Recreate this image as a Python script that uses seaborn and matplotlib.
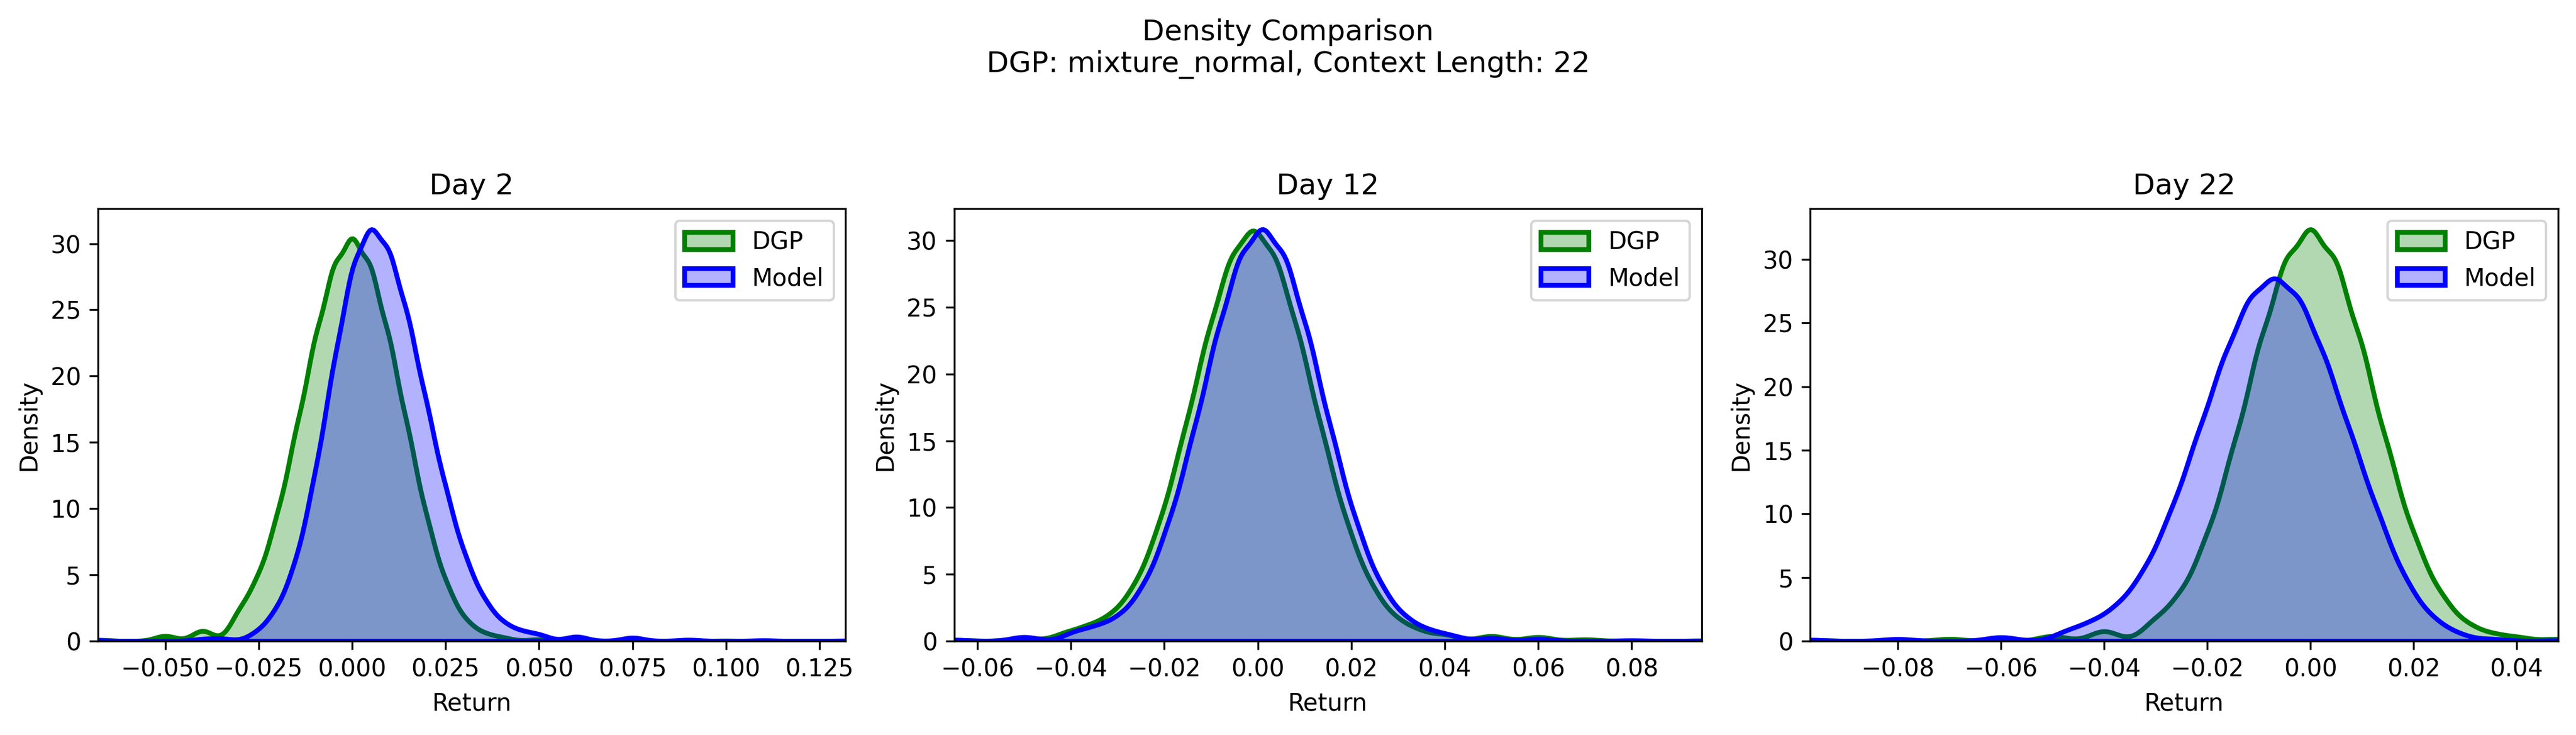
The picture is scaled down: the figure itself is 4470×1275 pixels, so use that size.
import numpy as np
import matplotlib
matplotlib.use("Agg")
import matplotlib.pyplot as plt
import seaborn as sns

# Density values, per day and per series
DAYS = ["Day 2", "Day 12", "Day 22"]

d2_dgp_x = [-0.068, -0.05, -0.04, -0.03, -0.025, -0.02, -0.015, -0.01, -0.005, 0.0, 0.005, 0.01,
            0.015, 0.02, 0.025, 0.03, 0.035, 0.04, 0.05, 0.075, 0.1, 0.132]
d2_dgp_y = [0.1, 0.5, 1.0, 2.5, 4.8, 9.3, 15.7, 22.6, 28.2, 30.5, 28.2, 22.6,
            15.7, 9.0, 4.3, 1.6, 0.6, 0.3, 0.15, 0.05, 0.02, 0.0]
d2_mod_x = [-0.068, -0.04, -0.035, -0.025, -0.02, -0.015, -0.01, -0.005, 0.0, 0.005, 0.01, 0.015,
            0.02, 0.025, 0.03, 0.035, 0.04, 0.045, 0.05, 0.06, 0.075, 0.09, 0.11, 0.132]
d2_mod_y = [0.05, 0.15, 0.2, 0.7, 2.2, 5.3, 11.1, 18.8, 25.7, 28.5, 26.7, 22.1,
            16.0, 10.3, 5.8, 2.9, 1.3, 0.7, 0.5, 0.4, 0.3, 0.1, 0.05, 0.02]

d12_dgp_x = [-0.065, -0.05, -0.041, -0.036, -0.031, -0.026, -0.021, -0.016, -0.011, -0.006, -0.001,
             0.004, 0.009, 0.014, 0.019, 0.024, 0.029, 0.034, 0.04, 0.05, 0.06, 0.07, 0.095]
d12_dgp_y = [0.1, 0.3, 0.7, 1.2, 2.0, 4.2, 8.6, 15.1, 22.5, 28.6, 31.0,
             28.6, 22.5, 15.1, 8.6, 4.2, 1.8, 0.9, 0.6, 0.5, 0.4, 0.15, 0.02]
d12_mod_x = [-0.065, -0.05, -0.039, -0.034, -0.029, -0.024, -0.019, -0.014, -0.009, -0.004, 0.001,
             0.006, 0.011, 0.016, 0.021, 0.026, 0.031, 0.036, 0.041, 0.05, 0.06, 0.08, 0.095]
d12_mod_y = [0.1, 0.4, 0.8, 1.2, 2.0, 4.3, 8.8, 15.3, 22.9, 29.1, 31.5,
             29.1, 22.9, 15.3, 8.8, 4.3, 1.9, 0.9, 0.5, 0.3, 0.2, 0.05, 0.02]

d22_dgp_x = [-0.097, -0.07, -0.05, -0.04, -0.03, -0.025, -0.02, -0.015, -0.01, -0.005, 0.0,
             0.005, 0.01, 0.015, 0.02, 0.025, 0.03, 0.035, 0.04, 0.048]
d22_dgp_y = [0.1, 0.2, 0.5, 1.0, 1.8, 3.7, 8.1, 14.9, 23.0, 29.8, 32.5,
             29.8, 23.0, 14.9, 8.1, 3.7, 1.4, 0.6, 0.35, 0.2]
d22_mod_x = [-0.097, -0.08, -0.06, -0.047, -0.042, -0.037, -0.032, -0.027, -0.022, -0.017, -0.012,
             -0.007, -0.002, 0.003, 0.008, 0.013, 0.018, 0.023, 0.028, 0.035, 0.048]
d22_mod_y = [0.1, 0.2, 0.4, 0.9, 1.6, 2.9, 5.6, 10.1, 16.0, 22.1, 27.0,
             28.8, 27.0, 22.1, 16.0, 10.1, 5.0, 2.0, 0.7, 0.2, 0.05]

XLIMS = [(-0.068, 0.132), (-0.065, 0.095), (-0.097, 0.048)]
SERIES = [
    ((d2_dgp_x, d2_dgp_y), (d2_mod_x, d2_mod_y)),
    ((d12_dgp_x, d12_dgp_y), (d12_mod_x, d12_mod_y)),
    ((d22_dgp_x, d22_dgp_y), (d22_mod_x, d22_mod_y)),
]

fig, axes = plt.subplots(1, 3, figsize=(14.9, 4.25), dpi=300)

for ax, title, xlim, (dgp, mod) in zip(axes, DAYS, XLIMS, SERIES):
    for (xs, ys), color, label in [(dgp, "green", "DGP"), (mod, "blue", "Model")]:
        sns.kdeplot(x=np.array(xs), weights=np.array(ys), bw_adjust=0.3, cut=0,
                    clip=xlim, gridsize=400, fill=True, alpha=0.3, color=color,
                    edgecolor=color, linewidth=2, label=label, ax=ax)
    ax.set_xlim(*xlim)
    ax.set_ylim(bottom=0)
    ax.set_title(title, fontsize=12)
    ax.set_xlabel("Return")
    ax.set_ylabel("Density")
    ax.legend(loc="upper right")

fig.suptitle("Density Comparison\nDGP: mixture_normal, Context Length: 22", fontsize=12, y=0.975)
fig.subplots_adjust(left=0.038, right=0.993, bottom=0.128, top=0.716, wspace=0.145)
fig.savefig("out.png", dpi=300)
